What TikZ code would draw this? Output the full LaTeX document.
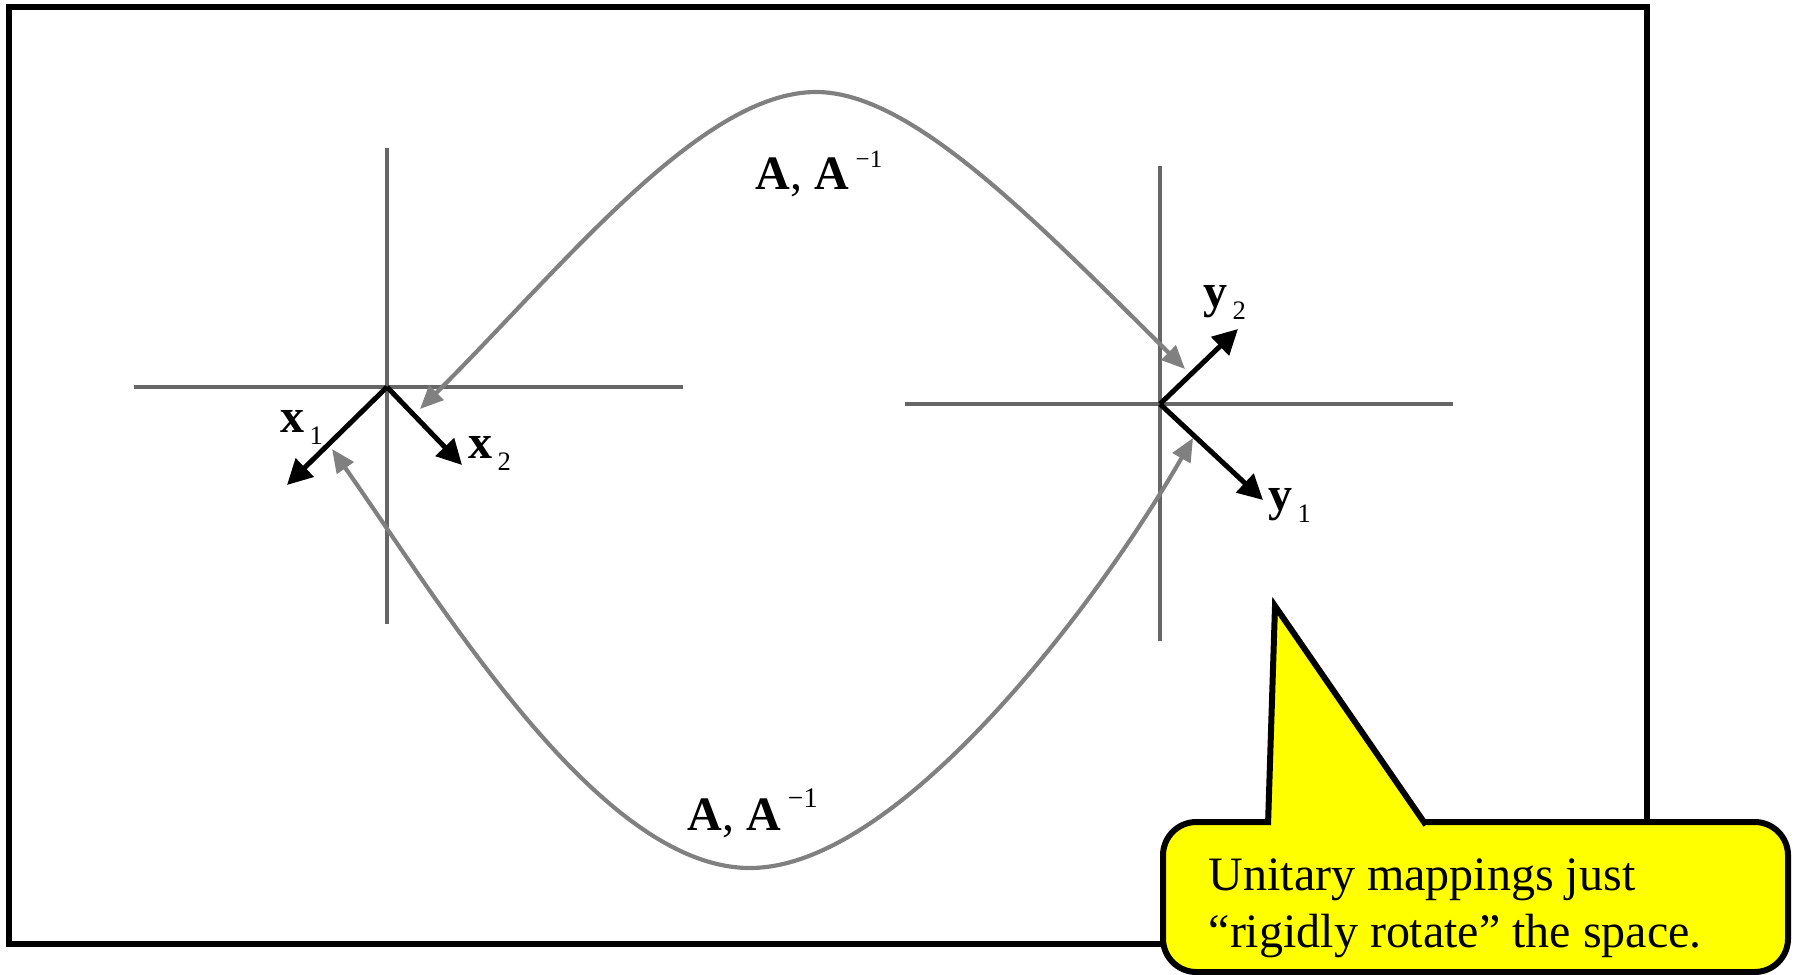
\documentclass[tikz,border=0pt]{standalone}
\usepackage{fontspec}
\setmainfont{Liberation Serif}
\usepackage{tikz}
\usetikzlibrary{arrows.meta, calc}
\definecolor{axisgray}{HTML}{666666}
\definecolor{mapgray}{HTML}{808080}
\definecolor{calloutyellow}{HTML}{FFFF00}

\newcommand{\veclab}[2]{\textbf{#1}\kern1.5pt\raisebox{-3.6pt}{\fontsize{8}{8}\selectfont #2}}
\newcommand{\maplab}[1]{\textbf{A}, \textbf{A}\kern2pt\raisebox{6.7pt}{\fontsize{#1}{#1}\selectfont −1}}

\begin{document}
\begin{tikzpicture}[x=0.3pt, y=-0.3pt,
                axis/.style={draw=axisgray, line width=1.3pt},
                basisvec/.style={draw=black, line width=1.5pt, -{Triangle[length=7.5pt, width=7.5pt]}},
                mapping/.style={draw=mapgray, line width=1.25pt, {Triangle[length=7pt, width=6pt]}-{Triangle[length=7pt, width=6pt]}},
                veclabel/.style={anchor=base west, inner sep=0pt, font=\fontsize{14.4}{17}\selectfont},
                callout/.style={draw=black, line width=1.8pt, fill=calloutyellow, line join=miter}
            ]
            \useasboundingbox (0,0) rectangle (1796,974);

            % Rahmen
            \draw[line width=1.8pt] (9,7) rectangle (1647,944);

            % Achsen
            \coordinate (O1) at (387,387);
            \coordinate (O2) at (1160,404);
            \draw[axis] ($(O1)+(-253,0)$) -- ($(O1)+(296,0)$);
            \draw[axis] ($(O1)+(0,-239)$) -- ($(O1)+(0,237)$);
            \draw[axis] ($(O2)+(-255,0)$) -- ($(O2)+(293,0)$);
            \draw[axis] ($(O2)+(0,-238)$) -- ($(O2)+(0,237)$);

            % Basisvektoren
            \draw[basisvec] (O1) -- ++(-100,98) coordinate (X1);
            \draw[basisvec] (O1) -- ++(75,78) coordinate (X2);
            \draw[basisvec] (O2) -- ++(78,-75) coordinate (Y2);
            \draw[basisvec] (O2) -- ++(103,96) coordinate (Y1);
            \node[veclabel] (lx1) at (280,432) {\veclab{x}{1}};
            \node[veclabel] (lx2) at (468,458) {\veclab{x}{2}};
            \node[veclabel] (ly2) at (1203,307) {\veclab{y}{2}};
            \node[veclabel] (ly1) at (1268,510) {\veclab{y}{1}};

            % Abbildungen
            \coordinate (TL) at (420,409);
            \coordinate (TR) at (1185,369);
            \coordinate (BL) at (332,449);
            \coordinate (BR) at (1193,438);
            \draw[mapping] (TL) .. controls (560,270) and (700,92) .. (816,92) .. controls (910,92) and (1030,215) .. (TR);
            \draw[mapping] (BL) .. controls (445,610) and (600,868) .. (750,868) .. controls (900,868) and (1100,600) .. (BR);
            \node[veclabel] (ltop) at (755,190) {\maplab{7.5}};
            \node[veclabel] (lbot) at (687,830) {\maplab{8.5}};

            % Sprechblase
            \draw[callout, rounded corners=10pt] (1163,822) rectangle (1788,972);
            \fill[calloutyellow] (1268,826) -- (1275,606) -- (1427,826) -- cycle;
            \draw[line width=1.8pt, line join=miter] (1268,825) -- (1275,606) -- (1426,825);
            \node[veclabel, align=left] (note) at (1208,947) {Unitary mappings just\\“rigidly rotate” the space.};

        \end{tikzpicture}
\end{document}
